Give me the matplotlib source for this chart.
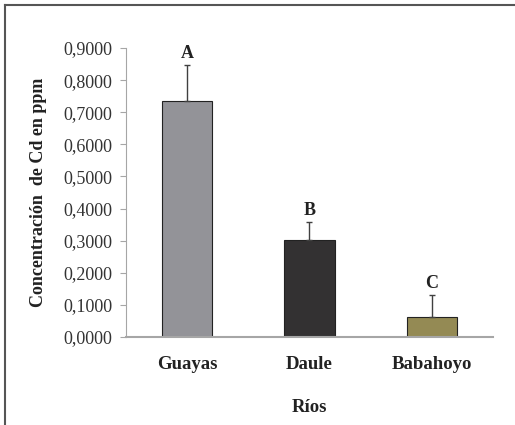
import matplotlib.pyplot as plt
from matplotlib.lines import Line2D

# Data
rivers = ['Guayas', 'Daule', 'Babahoyo']
cd_mean = [0.735, 0.302, 0.062]
cd_err = [0.112, 0.056, 0.069]
groups = ['A', 'B', 'C']
bar_colors = ['#939398', '#333132', '#948a54']
y_ticks = [0.0, 0.1, 0.2, 0.3, 0.4, 0.5, 0.6, 0.7, 0.8, 0.9]

plt.rcParams['font.family'] = ['Liberation Serif', 'DejaVu Serif']

fig = plt.figure(figsize=(5.15, 4.25), dpi=100)
ax = fig.add_axes([0.2447, 0.207, 0.7123, 0.68])

x = range(len(rivers))
ax.bar(x, cd_mean, width=0.41, color=bar_colors, edgecolor='#222222',
       linewidth=0.8, zorder=2)
ax.errorbar(x, cd_mean, yerr=[[0] * len(cd_err), cd_err], fmt='none',
            ecolor='#404040', elinewidth=1, capsize=2.2, capthick=1, zorder=3)

# Significance letters above the error bars
for xi, m, e, g in zip(x, cd_mean, cd_err, groups):
    ax.text(xi, m + e + 0.035, g, ha='center', va='center',
            fontsize=13, fontweight='bold', color='#222222')

ax.set_xlim(-0.5, 2.5)
ax.set_ylim(0, 0.9)
ax.set_yticks(y_ticks)
ax.set_yticklabels([f'{v:.4f}'.replace('.', ',') for v in y_ticks],
                   fontsize=13, color='#333333')
ax.set_xticks(list(x))
ax.set_xticklabels(rivers, fontsize=13.5, fontweight='bold', color='#222222')

ax.spines['top'].set_visible(False)
ax.spines['right'].set_visible(False)
ax.spines['left'].set_color('#a6a6a6')
ax.spines['bottom'].set_color('#a6a6a6')
ax.spines['bottom'].set_linewidth(1.5)
ax.tick_params(axis='y', direction='out', length=4, color='#a6a6a6', pad=6)
ax.tick_params(axis='x', length=0, pad=14)

ax.set_ylabel('Concentración  de Cd en ppm', fontsize=13, fontweight='bold',
              color='#222222')
ax.yaxis.set_label_coords(-0.215, 0.5)
ax.set_xlabel('Ríos', fontsize=13.5, fontweight='bold', color='#222222')
ax.xaxis.set_label_coords(0.5, -0.215)

# Outer frame (top and left edges)
fig.add_artist(Line2D([5 / 515, 1], [1 - 5 / 425, 1 - 5 / 425],
                      transform=fig.transFigure, color='#555555', lw=1.5))
fig.add_artist(Line2D([5 / 515, 5 / 515], [0, 1 - 5 / 425],
                      transform=fig.transFigure, color='#555555', lw=1.5))

fig.savefig('out.png', dpi=100)
